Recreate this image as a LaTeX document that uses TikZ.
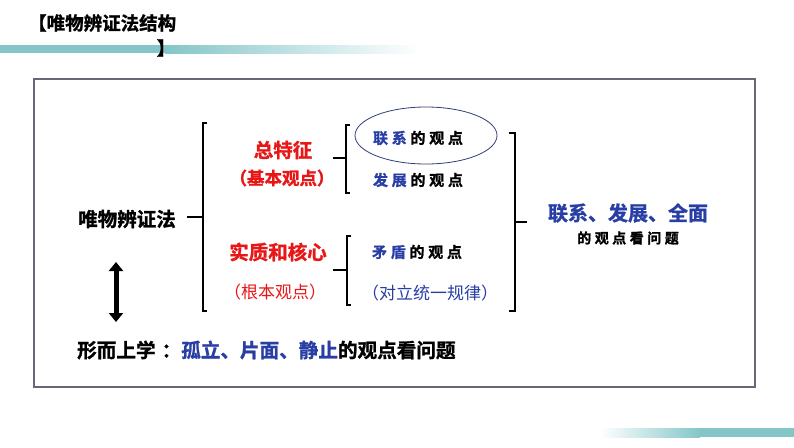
\documentclass[tikz,border=0pt]{standalone}
\usepackage{fontspec}
\setmainfont{Noto Sans CJK SC}
\newfontfamily\cjk{Noto Sans CJK SC}
\newfontfamily\cjkb[FakeBold=1.3]{Noto Sans CJK SC Bold}
\newfontfamily\cjkwide[LetterSpace=25,FakeBold=1.3]{Noto Sans CJK SC Bold}
\usetikzlibrary{arrows.meta,positioning}
\definecolor{tblue}{RGB}{40,62,165}
\definecolor{tred}{RGB}{232,22,22}
\definecolor{teal1}{RGB}{132,198,200}
\definecolor{boxgray}{RGB}{100,104,120}
\definecolor{ellblue}{RGB}{50,60,120}
\tikzset{
  txt/.style={inner sep=0pt, anchor=center},
  brk/.style={line width=1.4pt, black},
}
\begin{document}
\begin{tikzpicture}[x=1pt,y=-1pt]
\useasboundingbox (0,0) rectangle (794,447);
% top bar
\fill[teal1] (0,45) rectangle (165,53);
\shade[left color=teal1, right color=white, draw=none] (165,45) rectangle (420,53);
% bottom bar
\shade[left color=white, right color=teal1, draw=none] (600,428) rectangle (700,437);
\fill[teal1] (700,428) rectangle (794,437);
% title
\node[txt, anchor=west] (title) at (28,23) {\fontsize{18.5}{20}\cjkb 【唯物辨证法结构};
\node[txt] (titleb) at (166,48) {\fontsize{18.5}{20}\cjkb 】};
% frame
\draw[boxgray, line width=1.3pt] (34,79) rectangle (755,387);
% left main
\node[txt] (wuwu) at (127,219) {\fontsize{19.5}{20}\cjkb 唯物辨证法};
\coordinate (t1) at (187,217);
\coordinate (b1) at (203,217);
\draw[brk] (t1) -- (b1);
\draw[brk] (207,123) -- (203,123) -- (203,311) -- (207,311);
% red texts
\node[txt, text=tred] (zong) at (283,150) {\fontsize{19.5}{20}\cjkb 总特征};
\node[txt, text=tred] (jiben) at (282,178) {\fontsize{17.5}{20}\cjkb （基本观点）};
\node[txt, text=tred] (shizhi) at (278,252) {\fontsize{19.5}{20}\cjkb 实质和核心};
\node[txt, text=tred] (genben) at (275,292) {\fontsize{17}{20}\cjk （根本观点）};
% sub brackets
\draw[brk] (333,158) -- (346,158);
\draw[brk] (350,125) -- (346,125) -- (346,193) -- (350,193);
\draw[brk] (333,270) -- (347,270);
\draw[brk] (351,236) -- (347,236) -- (347,305) -- (351,305);
% ellipse
\draw[ellblue, line width=0.8pt] (426,135.5) ellipse [x radius=71, y radius=28.5];
% views
\node[txt] (lianxi) at (418,138) {\fontsize{15}{16}\cjkwide\textcolor{tblue}{联系}\hspace{3.7pt}的观点};
\node[txt] (fazhan) at (418,180) {\fontsize{15}{16}\cjkwide\textcolor{tblue}{发展}\hspace{3.7pt}的观点};
\node[txt] (maodun) at (417,252) {\fontsize{15}{16}\cjkwide\textcolor{tblue}{矛盾}\hspace{3.7pt}的观点};
\node[txt, text=tblue] (duili) at (430,293) {\fontsize{17}{20}\cjk （对立统一规律）};
% right bracket
\draw[brk] (509,133) -- (515,133) -- (515,311) -- (509,311);
\draw[brk] (515,222) -- (527,222);
\node[txt, text=tblue] (lfq) at (628,213) {\fontsize{20}{22}\cjkb 联系、发展、全面};
\node[txt] (kan) at (628,238) {\fontsize{14}{16}\cjkwide 的观点看问题};
% double arrow
\draw[line width=5pt, {Triangle[length=9pt,width=14pt]}-{Triangle[length=9pt,width=14pt]}] (116,262) -- (116,322);
% metaphysics
\node[txt, anchor=west] (xing) at (77,350) {\fontsize{19.6}{22}\cjkb 形而上学\hspace{6pt}：\textcolor{tblue}{孤立、片面、静止}的观点看问题};
\end{tikzpicture}
\end{document}
